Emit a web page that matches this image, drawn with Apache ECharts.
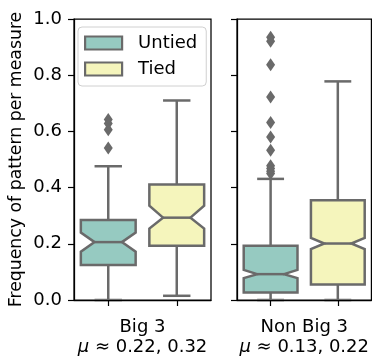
<!DOCTYPE html>
<html>
<head>
<meta charset="utf-8">
<script src="https://cdn.jsdelivr.net/npm/echarts@6/dist/echarts.min.js"></script>
<style>html,body{margin:0;padding:0;background:#fff;}#c{width:372px;height:362px;}</style>
</head>
<body>
<div id="c"></div>
<script>
// Panels and hues
const groups = ['Big 3', 'Non Big 3'];
const groupMeans = ['0.22, 0.32', '0.13, 0.22'];
const hues = ['Untied', 'Tied'];
const yTicks = [0, 0.2, 0.4, 0.6, 0.8, 1.0];
// Box stats: [lowerWhisker, q1, notchLow, median, notchHigh, q3, upperWhisker]
const big3Untied = [0.0, 0.125, 0.172, 0.206, 0.240, 0.285, 0.476];
const big3Tied = [0.015, 0.193, 0.254, 0.293, 0.336, 0.411, 0.710];
const nonBig3Untied = [0.0, 0.027, 0.078, 0.092, 0.107, 0.193, 0.431];
const nonBig3Tied = [0.0, 0.055, 0.181, 0.201, 0.221, 0.355, 0.778];
// Outliers
const big3UntiedOut = [0.642, 0.628, 0.606, 0.541];
const big3TiedOut = [];
const nonBig3UntiedOut = [0.935, 0.921, 0.837, 0.722, 0.632, 0.580, 0.533, 0.478, 0.468, 0.458, 0.450];
const nonBig3TiedOut = [];

const FILL = {Untied: '#96cac1', Tied: '#f5f5bc'};
const GRAY = '#6a6a6a';
const FONT = 'DejaVu Sans';

function renderBox(params, api) {
  const x = api.value(0);
  const lw = api.value(1), q1 = api.value(2), nlo = api.value(3), med = api.value(4),
        nhi = api.value(5), q3 = api.value(6), uw = api.value(7);
  const band = api.size([1, 0])[0];
  const w = band * 0.8, half = w / 2, cap = w / 4, notch = w / 4;
  const cx = api.coord([x, 0])[0];
  const y = v => api.coord([x, v])[1];
  const L = cx - half, R = cx + half;
  const pts = [
    [L, y(q1)], [L, y(nlo)], [L + notch, y(med)], [L, y(nhi)], [L, y(q3)],
    [R, y(q3)], [R, y(nhi)], [R - notch, y(med)], [R, y(nlo)], [R, y(q1)]
  ];
  const ls = {stroke: GRAY, lineWidth: 2.5, fill: null};
  return {
    type: 'group',
    children: [
      {type: 'line', shape: {x1: cx, y1: y(q1), x2: cx, y2: y(lw)}, style: ls},
      {type: 'line', shape: {x1: cx - cap, y1: y(lw), x2: cx + cap, y2: y(lw)}, style: ls},
      {type: 'line', shape: {x1: cx, y1: y(q3), x2: cx, y2: y(uw)}, style: ls},
      {type: 'line', shape: {x1: cx - cap, y1: y(uw), x2: cx + cap, y2: y(uw)}, style: ls},
      {type: 'polygon', shape: {points: pts}, style: {fill: api.visual('color'), stroke: GRAY, lineWidth: 2.5, lineJoin: 'miter'}},
      {type: 'line', shape: {x1: L + notch, y1: y(med), x2: R - notch, y2: y(med)}, style: ls}
    ]
  };
}

const statsByPanel = [[big3Untied, big3Tied], [nonBig3Untied, nonBig3Tied]];
const outByPanel = [[big3UntiedOut, big3TiedOut], [nonBig3UntiedOut, nonBig3TiedOut]];

const series = [];
for (let p = 0; p < 2; p++) {
  for (let h = 0; h < 2; h++) {
    series.push({
      type: 'custom', name: hues[h], xAxisIndex: p, yAxisIndex: p,
      itemStyle: {color: FILL[hues[h]]},
      renderItem: renderBox,
      encode: {x: 0, y: [1, 2, 3, 4, 5, 6, 7]},
      data: [[h].concat(statsByPanel[p][h])],
      z: 2
    });
    if (outByPanel[p][h].length) {
      series.push({
        type: 'scatter', name: hues[h] + ' outliers', xAxisIndex: p, yAxisIndex: p,
        symbol: 'diamond', symbolSize: [9, 13],
        itemStyle: {color: GRAY, opacity: 1},
        data: outByPanel[p][h].map(v => [h, v]),
        z: 3
      });
    }
  }
}

const gridW = 137;
const option = {
  animation: false,
  backgroundColor: '#fff',
  textStyle: {fontFamily: FONT},
  grid: [
    {left: 74, top: 19, width: gridW, height: 282, show: true, borderColor: '#000', borderWidth: 1.25, backgroundColor: 'transparent'},
    {left: 237, top: 19, width: gridW, height: 282, show: true, borderColor: '#000', borderWidth: 1.25, backgroundColor: 'transparent'}
  ],
  legend: {
    left: 78, top: 27, orient: 'vertical',
    padding: [7, 9, 8, 6], itemGap: 8,
    itemWidth: 37, itemHeight: 13,
    borderColor: '#d0d0d0', borderWidth: 1, borderRadius: 4,
    backgroundColor: 'rgba(255,255,255,0.8)',
    textStyle: {fontFamily: FONT, fontSize: 18, color: '#000', padding: [0, 0, 0, 11]},
    data: hues.map(h => ({name: h, icon: 'rect', itemStyle: {color: FILL[h], borderColor: GRAY, borderWidth: 2.2}}))
  },
  xAxis: [0, 1].map(p => ({
    type: 'category', gridIndex: p, data: hues, boundaryGap: true, z: 10,
    axisLine: {show: true, lineStyle: {color: '#000', width: 1.25}},
    axisTick: {show: true, alignWithLabel: true, length: 6, lineStyle: {color: '#000', width: 1.2}},
    axisLabel: {show: false},
    splitLine: {show: false},
    name: groups[p] + '\n{i|μ} ≈ ' + groupMeans[p],
    nameLocation: 'middle', nameGap: 17,
    nameTextStyle: {fontFamily: FONT, fontSize: 18, color: '#000', lineHeight: 20,
      rich: {i: {fontFamily: FONT, fontStyle: 'italic', fontSize: 18, color: '#000', lineHeight: 20}}}
  })),
  yAxis: [0, 1].map(p => ({
    type: 'value', gridIndex: p, min: yTicks[0], max: yTicks[yTicks.length - 1], interval: 0.2, z: 10,
    axisLine: {show: true, lineStyle: {color: '#000', width: 1.25}},
    axisTick: {show: true, length: 6, lineStyle: {color: '#000', width: 1.2}},
    axisLabel: {show: p === 0, margin: 12, fontFamily: FONT, fontSize: 18, color: '#000',
      formatter: v => v.toFixed(1)},
    splitLine: {show: false},
    name: p === 0 ? 'Frequency of pattern per measure' : '',
    nameLocation: 'middle', nameGap: 49,
    nameTextStyle: {fontFamily: FONT, fontSize: 17.3, color: '#000'}
  })),
  series: series
};
const chart = echarts.init(document.getElementById('c'), null, {renderer: 'canvas'});
chart.setOption(option);
</script>
</body>
</html>
